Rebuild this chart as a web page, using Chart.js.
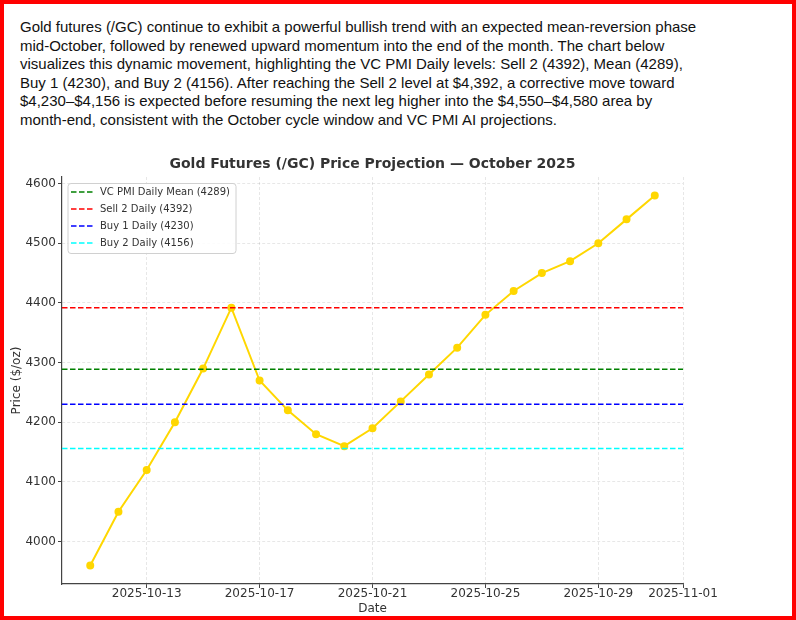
<!DOCTYPE html>
<html>
<head>
<meta charset="utf-8">
<script src="https://cdn.jsdelivr.net/npm/chart.js@4.4.1/dist/chart.umd.min.js"></script>
<style>
  html, body { margin: 0; padding: 0; background: #fff; }
  #frame {
    position: relative; width: 796px; height: 620px;
    box-sizing: border-box; border: 4px solid #ff0000; background: #fff;
  }
  #note {
    position: absolute; left: 16px; top: 14px;
    font-family: "Liberation Sans", Arial, sans-serif; font-size: 15px;
    line-height: 18.6px; color: #111; white-space: nowrap;
  }
  #wrap { position: absolute; left: 0; top: 138px; width: 788px; height: 474px; }
</style>
</head>
<body>
<div id="frame">
  <div id="note">Gold futures (/GC) continue to exhibit a powerful bullish trend with an expected mean-reversion phase<br>mid-October, followed by renewed upward momentum into the end of the month. The chart below<br>visualizes this dynamic movement, highlighting the VC PMI Daily levels: Sell 2 (4392), Mean (4289),<br>Buy 1 (4230), and Buy 2 (4156). After reaching the Sell 2 level at $4,392, a corrective move toward<br>$4,230&ndash;$4,156 is expected before resuming the next leg higher into the $4,550&ndash;$4,580 area by<br>month-end, consistent with the October cycle window and VC PMI AI projections.</div>
  <div id="wrap"><canvas id="gc_chart" width="788" height="474"></canvas></div>
</div>
<script>
// projected daily prices
var dates = ['2025-10-11','2025-10-12','2025-10-13','2025-10-14','2025-10-15','2025-10-16','2025-10-17',
             '2025-10-18','2025-10-19','2025-10-20','2025-10-21','2025-10-22','2025-10-23','2025-10-24',
             '2025-10-25','2025-10-26','2025-10-27','2025-10-28','2025-10-29','2025-10-30','2025-10-31'];
var prices = [3960, 4050, 4120, 4200, 4290, 4392, 4270,
              4220, 4180, 4160, 4190, 4235, 4280, 4325,
              4380, 4420, 4450, 4470, 4500, 4540, 4580];

// VC PMI levels
var level_names = ['VC PMI Daily Mean (4289)', 'Sell 2 Daily (4392)', 'Buy 1 Daily (4230)', 'Buy 2 Daily (4156)'];
var level_values = [4289, 4392, 4230, 4156];
var level_colors = ['#008000', '#ff0000', '#0000ff', '#00ffff'];

// axes
var x_range = ['2025-10-10', '2025-11-01'];
var x_ticks = ['2025-10-13','2025-10-17','2025-10-21','2025-10-25','2025-10-29','2025-11-01'];
var y_range = [3929, 4611];
var y_ticks = [4000, 4100, 4200, 4300, 4400, 4500, 4600];

function dayNum(s) { return Date.parse(s) / 86400000; }
function dayLabel(v) { return new Date(v * 86400000).toISOString().slice(0, 10); }

var xMin = dayNum(x_range[0]), xMax = dayNum(x_range[1]);

var datasets = [];
level_values.forEach(function (v, i) {
    datasets.push({
        label: level_names[i],
        data: [{x: xMin, y: v}, {x: xMax, y: v}],
        borderColor: level_colors[i],
        borderWidth: 1.5,
        borderDash: [5.5, 2.5],
        pointRadius: 0,
        isLevel: true
    });
});
datasets.push({
    label: 'Projected Price',
    data: dates.map(function (d, i) { return {x: dayNum(d), y: prices[i]}; }),
    borderColor: '#FFD700',
    backgroundColor: '#FFD700',
    borderWidth: 2,
    pointRadius: 3,
    pointBackgroundColor: '#FFD700',
    pointBorderColor: '#FFD700',
    tension: 0
});

// legend box drawn inside the plot, like matplotlib
var boxLegend = {
    id: 'boxLegend',
    afterDraw: function (chart) {
        var c = chart.ctx, a = chart.chartArea;
        var items = chart.data.datasets.filter(function (d) { return d.isLevel; });
        var bx = a.left + 6, by = a.top + 6.5, bw = 168, bh = 70;
        c.save();
        c.fillStyle = 'rgba(255,255,255,0.85)';
        c.strokeStyle = '#d0d0d0';
        c.lineWidth = 1;
        c.beginPath();
        c.roundRect(bx, by, bw, bh, 3);
        c.fill();
        c.stroke();
        c.font = '10px "DejaVu Sans"';
        c.textBaseline = 'middle';
        c.fillStyle = '#333';
        items.forEach(function (d, i) {
            var y = a.top + 15 + i * 17;
            c.strokeStyle = d.borderColor;
            c.lineWidth = d.borderWidth;
            c.setLineDash(d.borderDash);
            c.beginPath();
            c.moveTo(a.left + 9, y);
            c.lineTo(a.left + 31, y);
            c.stroke();
            c.setLineDash([]);
            c.fillText(d.label, a.left + 38, y);
        });
        c.restore();
    }
};

var gridOpts = {
    color: 'rgba(0,0,0,0.12)',
    lineWidth: 0.8,
    tickLength: 4,
    tickColor: '#444',
    tickWidth: 1,
    tickBorderDash: []
};

var ctx = document.getElementById('gc_chart');
var myChart = new Chart(ctx, {
    type: 'line',
    data: { datasets: datasets },
    plugins: [boxLegend],
    options: {
        responsive: false,
        animation: false,
        devicePixelRatio: 1,
        layout: { padding: { left: 0, right: 109, top: 0, bottom: 0 } },
        plugins: {
            legend: { display: false },
            tooltip: { enabled: false },
            title: {
                display: true,
                fullSize: false,
                text: 'Gold Futures (/GC) Price Projection \u2014 October 2025',
                color: '#333',
                font: { family: '"DejaVu Sans"', size: 14, weight: 'bold' },
                padding: { top: 13.6, bottom: 4.6 }
            }
        },
        scales: {
            x: {
                type: 'linear',
                min: xMin,
                max: xMax,
                afterBuildTicks: function (s) { s.ticks = x_ticks.map(function (t) { return {value: dayNum(t)}; }); },
                afterFit: function (s) { s.height = 32; },
                grid: gridOpts,
                border: { display: true, color: '#444', width: 1.2, dash: [3, 2] },
                ticks: {
                    autoSkip: false, maxRotation: 0, padding: -1,
                    color: '#333',
                    font: { family: '"DejaVu Sans"', size: 12 },
                    callback: function (v) { return dayLabel(v); }
                },
                title: {
                    display: true, text: 'Date', color: '#333',
                    font: { family: '"DejaVu Sans"', size: 12 },
                    padding: { top: 0, bottom: 0 }
                }
            },
            y: {
                type: 'linear',
                min: y_range[0],
                max: y_range[1],
                afterBuildTicks: function (s) { s.ticks = y_ticks.map(function (t) { return {value: t}; }); },
                afterFit: function (s) { s.width = 58; },
                grid: gridOpts,
                border: { display: true, color: '#444', width: 1.2, dash: [3, 2] },
                ticks: {
                    padding: 2,
                    color: '#333',
                    font: { family: '"DejaVu Sans"', size: 12 },
                    callback: function (v) { return String(v); }
                },
                title: {
                    display: true, text: 'Price ($/oz)', color: '#333',
                    font: { family: '"DejaVu Sans"', size: 12 },
                    padding: { top: 6, bottom: 0 }
                }
            }
        }
    }
});
</script>
</body>
</html>
